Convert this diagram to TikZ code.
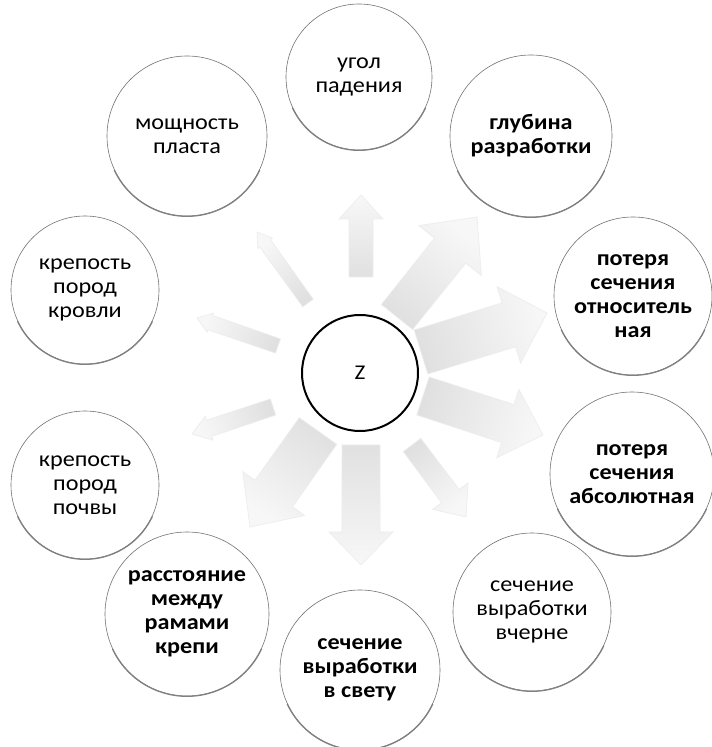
\documentclass[tikz,border=0pt]{standalone}
\usepackage{fontspec}
\setmainfont{Carlito}[FakeStretch=1.1]
\usetikzlibrary{calc}
\tikzset{
  factor/.style={circle, draw=black!55, line width=0.6pt, fill=white, align=center,
    inner sep=0pt, font=\fontsize{22}{24}\selectfont},
  factorb/.style={factor, font=\fontsize{22}{24}\selectfont\bfseries},
  hub/.style={circle, draw=black, line width=2pt, fill=white, minimum size=116pt,
    inner sep=0pt, font=\fontsize{21}{24}\selectfont},
  rim/.style={draw=black!50, line width=1.3pt},
  arrowfill/.style={top color=black!3, bottom color=black!12, draw=black!7, line width=0.7pt},
}
% base, tip, half shaft, half head, head length, shading angle
\newcommand\blockarrow[6]{%
  \coordinate (hb) at ($(#2)!#5!(#1)$);
  \shade[arrowfill, shading angle=#6]
    ($(#1)!#3!90:(#2)$) -- ($(hb)!#3!90:(#2)$) -- ($(hb)!#4!90:(#2)$) -- (#2)
    -- ($(hb)!#4!-90:(#2)$) -- ($(hb)!#3!-90:(#2)$) -- ($(#1)!#3!-90:(#2)$) -- cycle;
}
% name, x, y, radius, style, text
\newcommand\factornode[6]{%
  \node[#5, minimum size=#4*2pt] (#1) at (#2,#3) {#6};
  \draw[rim] (#1.205) arc[start angle=205, end angle=335, radius=#4pt+0.3pt];
}
\begin{document}
\begin{tikzpicture}[x=1pt,y=1pt]
\useasboundingbox (0,0) rectangle (712,747);
\fill[white] (0,0) rectangle (712,747);

% arrow ends
\coordinate (b1) at (361,470); \coordinate (t1) at (361,552);
\coordinate (b2) at (308,444); \coordinate (t2) at (257,515);
\coordinate (b3) at (278,401); \coordinate (t3) at (197,429);
\coordinate (b4) at (273,340); \coordinate (t4) at (192,313);
\coordinate (b5) at (318,316); \coordinate (t5) at (250,220);
\coordinate (b6) at (361,302); \coordinate (t6) at (361,182);
\coordinate (b7) at (412,302); \coordinate (t7) at (466,230);
\coordinate (b8) at (423,351); \coordinate (t8) at (543,312);
\coordinate (b9) at (421,395); \coordinate (t9) at (547,434);
\coordinate (b10) at (397,430); \coordinate (t10) at (477,530);

\blockarrow{b1}{t1}{12pt}{22pt}{24pt}{0}
\blockarrow{b2}{t2}{6.5pt}{9pt}{14pt}{35.7}
\blockarrow{b3}{t3}{7.5pt}{10pt}{14pt}{70.9}
\blockarrow{b4}{t4}{8.5pt}{12.5pt}{18pt}{109.7}
\blockarrow{b5}{t5}{23pt}{38pt}{41pt}{144.7}
\blockarrow{b6}{t6}{19pt}{32pt}{33pt}{180}
\blockarrow{b7}{t7}{11pt}{22pt}{26pt}{216.9}
\blockarrow{b8}{t8}{20pt}{36pt}{37pt}{252}
\blockarrow{b9}{t9}{23pt}{40pt}{40pt}{-72.5}
\blockarrow{b10}{t10}{20pt}{40pt}{43pt}{-38.3}

\node[hub] (z) at (360,374) {Z};

\factornode{ugol}{359}{670}{73}{factor}{угол\\падения}
\factornode{mosch}{187}{611}{80}{factor}{мощность\\пласта}
\factornode{glub}{531}{611}{81}{factorb}{глубина\\разработки}
\factornode{krov}{85}{457}{74}{factor}{крепость\\пород\\кровли}
\factornode{otn}{633}{451}{79}{factorb}{потеря\\сечения\\относитель\\ная}
\factornode{pochv}{85}{262}{74}{factor}{крепость\\пород\\почвы}
\factornode{abs}{632}{273}{82}{factorb}{потеря\\сечения\\абсолютная}
\factornode{rast}{187}{133}{82}{factorb}{расстояние\\между\\рамами\\крепи}
\factornode{vch}{532}{135}{79}{factor}{сечение\\выработки\\вчерне}
\factornode{svet}{360}{77}{80}{factorb}{сечение\\выработки\\в свету}
\end{tikzpicture}
\end{document}
